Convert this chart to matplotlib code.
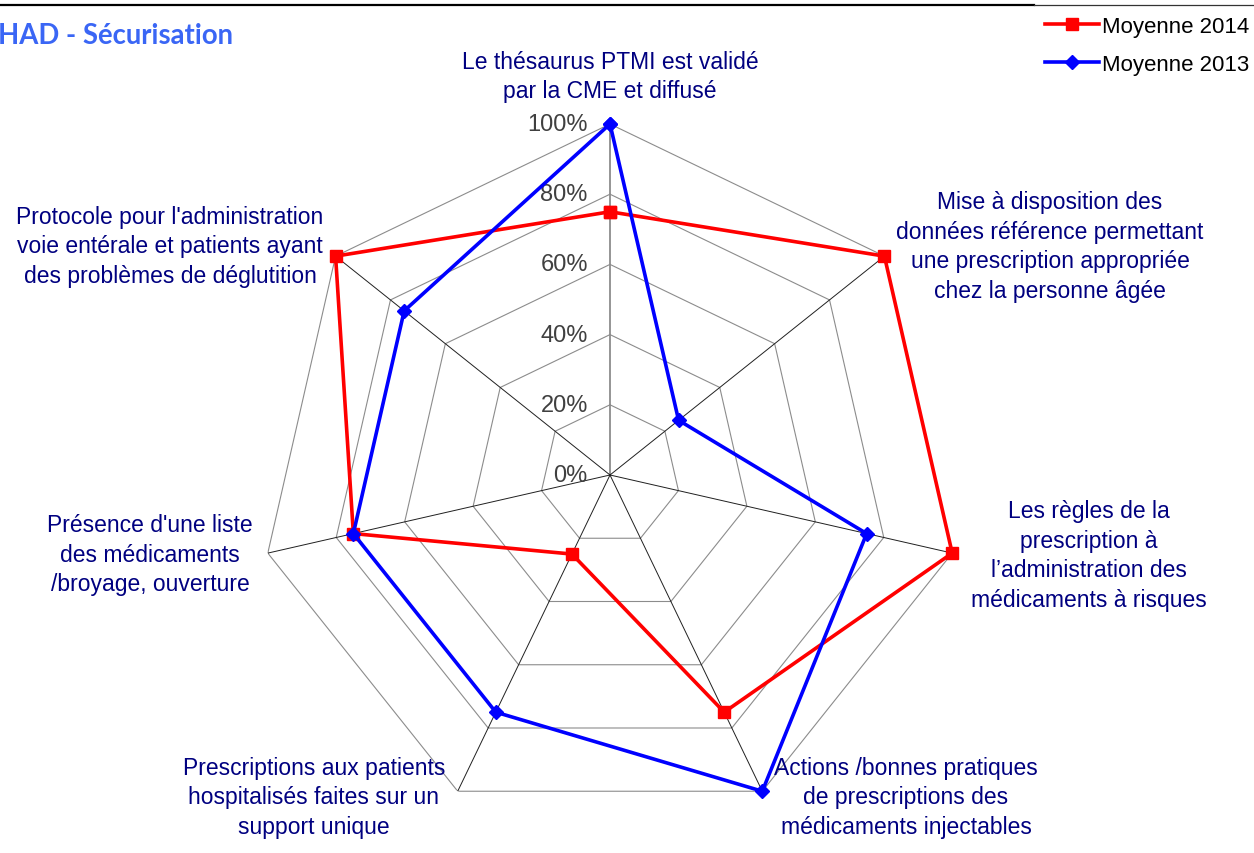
import numpy as np
import matplotlib
matplotlib.use('Agg')
import matplotlib.pyplot as plt
from matplotlib.lines import Line2D

plt.rcParams['font.family'] = ['Liberation Sans', 'DejaVu Sans']

# categories, clockwise from the top
categories = [
    "Le thésaurus PTMI est validé\npar la CME et diffusé",
    "Mise à disposition des\ndonnées référence permettant\nune prescription appropriée\nchez la personne âgée",
    "Les règles de la\nprescription à\nl\u2019administration des\nmédicaments à risques",
    "Actions /bonnes pratiques\nde prescriptions des\nmédicaments injectables",
    "Prescriptions aux patients\nhospitalisés faites sur un\nsupport unique",
    "Présence d'une liste\ndes médicaments\n/broyage, ouverture",
    "Protocole pour l'administration\nvoie entérale et patients ayant\ndes problèmes de déglutition",
]
moy_2014 = [75, 100, 100, 75, 25, 75, 100]
moy_2013 = [100, 25, 75, 100, 75, 75, 75]
r_ticks = [0, 20, 40, 60, 80, 100]
r_labels = ['0%', '20%', '40%', '60%', '80%', '100%']

W, H = 1254, 854
fig = plt.figure(figsize=(W / 100, H / 100), dpi=100)

# radar centre at (610, 476) px, radius 351 px
cx, cy, rad = 610, 476, 351
ax = fig.add_axes([(cx - rad) / W, (H - cy - rad) / H, 2 * rad / W, 2 * rad / H],
                  projection='polar')
ax.set_theta_offset(np.pi / 2)
ax.set_theta_direction(-1)
ax.set_ylim(0, 100)
ax.set_xticks([])
ax.set_yticks([])
ax.grid(False)
ax.spines['polar'].set_visible(False)
ax.patch.set_visible(False)

n = len(categories)
ang = np.linspace(0, 2 * np.pi, n, endpoint=False)
ang_c = np.append(ang, ang[0])

# heptagon grid
for r in r_ticks[1:]:
    ax.plot(ang_c, [r] * (n + 1), color='#8c8c8c', lw=0.8, zorder=1)
for i, a in enumerate(ang):
    if i == 0:
        ax.plot([a, a], [0, 100], color='#8c8c8c', lw=1.3, zorder=1)
    else:
        ax.plot([a, a], [0, 100], color='#202020', lw=0.7, zorder=1)

# value labels on the vertical axis
for r, lab in zip(r_ticks, r_labels):
    ax.annotate(lab, xy=(0, r), xytext=(-16, 0), textcoords='offset points',
                ha='right', va='center', fontsize=17, color='#404040',
                annotation_clip=False)

v14 = np.append(moy_2014, moy_2014[0])
v13 = np.append(moy_2013, moy_2013[0])
ax.plot(ang_c, v14, color='#ff0000', lw=2.6, marker='s', markersize=8,
        zorder=3, clip_on=False)
ax.plot(ang_c, v13, color='#0000ff', lw=2.6, marker='D', markersize=7,
        zorder=4, clip_on=False)

# category labels (pixel centres)
label_pos = [(610, 77), (1050, 247), (1089, 556), (906, 798),
             (314, 798), (150, 555), (170, 247)]
for txt, (x, y) in zip(categories, label_pos):
    fig.text(x / W, 1 - y / H, txt, ha='center', va='center', fontsize=16.5,
             color='#000080', linespacing=1.38, multialignment='center')

# title
fig.text(-2 / W, 1 - 36 / H, 'HAD - Sécurisation', ha='left', va='center',
         fontsize=19.8, fontweight='bold', color='#3a66f5',
         family=['Lato', 'DejaVu Sans'])

# top border line
fig.add_artist(Line2D([0, 1034 / W], [1 - 6 / H, 1 - 6 / H], color='black', lw=1.6))
fig.add_artist(Line2D([1034 / W, 1], [1 - 6 / H, 1 - 6 / H], color='#333333', lw=0.9))

handles = [
    Line2D([], [], color='#ff0000', lw=2.6, marker='s', markersize=8),
    Line2D([], [], color='#0000ff', lw=2.6, marker='D', markersize=7),
]
fig.legend(handles, ['Moyenne 2014', 'Moyenne 2013'], loc='upper right',
           bbox_to_anchor=(1 + 4 / W, 1 - 8 / H), frameon=False, fontsize=16,
           handlelength=2.4, handletextpad=0.15, labelspacing=0.75,
           borderaxespad=0)

fig.savefig('out.png', dpi=100)
